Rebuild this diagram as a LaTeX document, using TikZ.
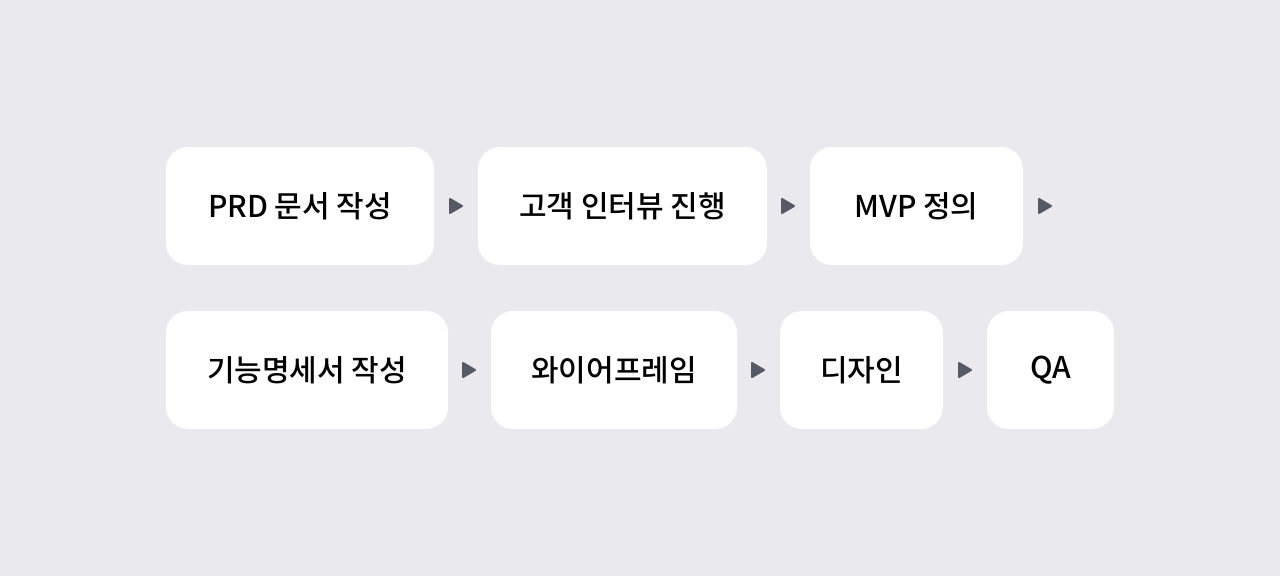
\documentclass[tikz,border=0pt]{standalone}
\usepackage{fontspec}
\newfontfamily\kr{Noto Sans CJK KR Medium}
\definecolor{bg}{HTML}{EAE9EE}
\definecolor{arr}{HTML}{555A66}
\begin{document}
\begin{tikzpicture}[x=1pt,y=-1pt,
  box/.style={fill=white,rounded corners=22pt,inner sep=0pt,minimum height=118pt,
    font=\kr\fontsize{30}{34}\selectfont,text=black},
  tri/.style={fill=arr,draw=arr,line width=2pt,line join=round}]
\fill[bg] (0,0) rectangle (1280,576);
\useasboundingbox (0,0) rectangle (1280,576);
% row 1
\node[box,minimum width=268pt] (a1) at (300,206) {\raisebox{-2pt}{PRD 문서 작성}};
\node[box,minimum width=289pt] (a2) at (622.5,206) {\raisebox{-2pt}{고객 인터뷰 진행}};
\node[box,minimum width=213pt] (a3) at (916.5,206) {\raisebox{-2pt}{MVP 정의}};
% row 2
\node[box,minimum width=282pt] (b1) at (307,370) {\raisebox{-2pt}{기능명세서 작성}};
\node[box,minimum width=246pt] (b2) at (614,370) {\raisebox{-2pt}{와이어프레임}};
\node[box,minimum width=163pt] (b3) at (861.5,370) {\raisebox{-2pt}{디자인}};
\node[box,minimum width=127pt] (b4) at (1050.5,370) {\raisebox{-2pt}{QA}};
% arrows
\foreach \x/\y in {450/206,782/206,1039/206,463/370,752/370,959/370}{
  \filldraw[tri] (\x,\y-7) -- (\x+12,\y) -- (\x,\y+7) -- cycle;
}
\end{tikzpicture}
\end{document}
